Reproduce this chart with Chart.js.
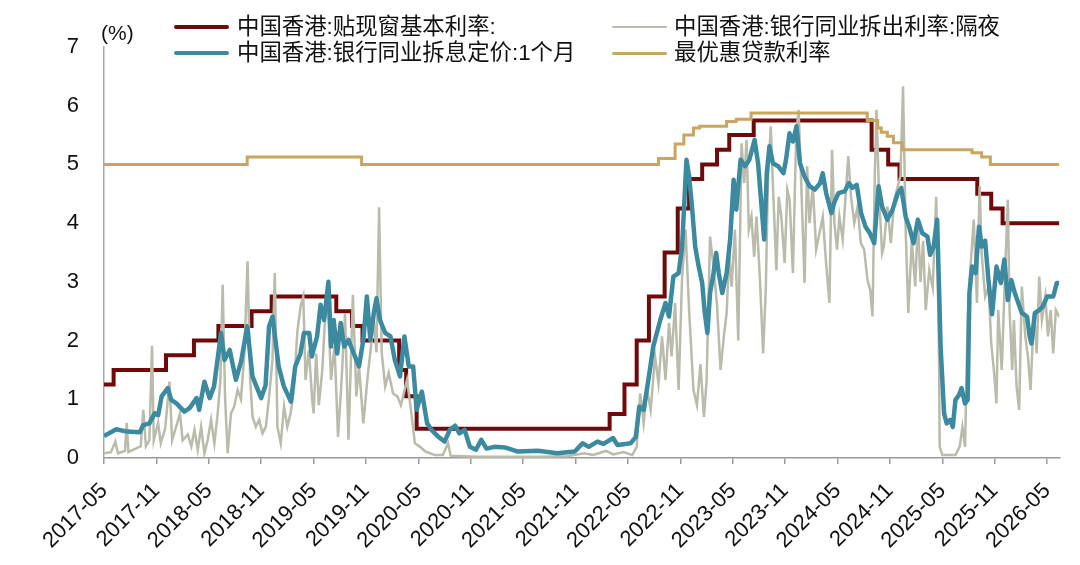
<!DOCTYPE html>
<html>
<head>
<meta charset="utf-8">
<script src="https://cdn.jsdelivr.net/npm/chart.js@4.4.1/dist/chart.umd.min.js"></script>
<style>
  body { margin: 0; background: #fff; }
  #wrap { position: relative; width: 1080px; height: 565px; font-family: "Liberation Sans", "Noto Sans CJK SC", sans-serif; color: #111; }
  .lg { position: absolute; font-size: 22.4px; line-height: 26px; white-space: nowrap; }
  .sw { position: absolute; height: 0; border-radius: 2px; }
  #unit { position: absolute; left: 101px; top: 21px; font-size: 21px; }
</style>
</head>
<body>
<div id="wrap">
  <canvas id="rateChart"></canvas>
  <div id="unit">(%)</div>
  <div class="sw" style="left:174px;top:25px;width:55px;border-top:4px solid #6f0a0a"></div>
  <div class="lg" style="left:237px;top:14px">中国香港:贴现窗基本利率:</div>
  <div class="sw" style="left:612px;top:26px;width:55px;border-top:2.5px solid #babbaa"></div>
  <div class="lg" style="left:674px;top:14px">中国香港:银行同业拆出利率:隔夜</div>
  <div class="sw" style="left:174px;top:51px;width:55px;border-top:4.5px solid #3c8aa0"></div>
  <div class="lg" style="left:237px;top:40px">中国香港:银行同业拆息定价:1个月</div>
  <div class="sw" style="left:612px;top:52px;width:55px;border-top:3px solid #c9a55e"></div>
  <div class="lg" style="left:674px;top:40px">最优惠贷款利率</div>
</div>
<script>
// x values are months counted from 2017-05
const tickMonths = [0, 6, 12, 18, 24, 30, 36, 42, 48, 54, 60, 66, 72, 78, 84, 90, 96, 102, 108];
const tickLabels = ['2017-05', '2017-11', '2018-05', '2018-11', '2019-05', '2019-11', '2020-05', '2020-11',
  '2021-05', '2021-11', '2022-05', '2022-11', '2023-05', '2023-11', '2024-05', '2024-11', '2025-05', '2025-11', '2026-05'];

// 贴现窗基本利率 (step changes)
const baseMonths = [0, 1.1, 7.1, 10.3, 13.1, 16.9, 19.2, 26.6, 28.4, 29.6, 33.8, 34.6, 35.8, 57.9, 59.6, 61.0, 62.4,
  64.2, 65.7, 67.0, 68.5, 70.2, 71.6, 74.4, 87.9, 89.8, 91.1, 100.0, 101.6, 102.9, 109.4];
const baseRate = [1.25, 1.5, 1.75, 2.0, 2.25, 2.5, 2.75, 2.5, 2.25, 2.0, 1.5, 1.05, 0.5, 0.75, 1.25, 2.0, 2.75,
  3.5, 4.25, 4.75, 5.0, 5.25, 5.5, 5.75, 5.25, 5.0, 4.75, 4.5, 4.25, 4.0, 4.0];

// 最优惠贷款利率 (step changes)
const primeMonths = [0, 16.4, 29.5, 63.5, 65.4, 66.4, 67.5, 68.2, 71.3, 72.4, 74.1, 87.4, 88.6, 89.0, 89.7, 90.4,
  91.4, 99.4, 100.5, 101.5, 109.4];
const primeRate = [5.0, 5.125, 5.0, 5.1, 5.35, 5.5, 5.62, 5.65, 5.73, 5.77, 5.875, 5.75, 5.62, 5.55, 5.48, 5.37,
  5.25, 5.2, 5.125, 5.0, 5.0];

// 银行同业拆出利率:隔夜
const onMonths = [0, 0.8, 1.3, 1.6, 2.4, 2.6, 2.8, 3.5, 4.2, 4.5, 4.8, 5.2, 5.5, 5.7, 6.2, 6.5, 7.0, 7.5, 7.8, 8.2,
  8.7, 9.0, 9.6, 10.0, 10.36, 10.74, 11.12, 11.5, 11.88, 12.26, 12.64, 13.02, 13.33, 13.59, 13.86, 14.16, 14.54,
  14.92, 15.3, 15.68, 16.06, 16.44, 16.74, 17.01, 17.39, 17.77, 18.15, 18.53, 18.91, 19.29, 19.56, 19.86, 20.24,
  20.62, 20.99, 21.37, 21.75, 22.13, 22.51, 22.82, 23.08, 23.46, 23.84, 24.0, 24.3, 24.6, 25.0, 25.3, 25.6, 26.0,
  26.4, 26.8, 27.2, 27.6, 28.0, 28.5, 28.9, 29.2, 29.7, 30.2, 30.9, 31.2, 31.5, 31.8, 32.2, 32.6, 33.1, 33.6,
  34.0, 34.7, 35.2, 35.6, 36.2, 36.8, 37.9, 38.8, 39.4, 39.7, 41, 43, 46, 50, 53, 55, 56, 57.5, 58.3, 59.5, 60.5,
  61.0, 61.4, 61.8, 62.2, 62.6, 63.1, 63.5, 63.9, 64.3, 64.7, 65.0, 65.4, 65.8, 66.2, 66.6, 67.0, 67.5, 67.9,
  68.3, 68.7, 69.0, 69.4, 69.8, 70.2, 70.6, 71.0, 71.3, 71.6, 71.87, 72.25, 72.63, 73.01, 73.31, 73.58, 73.84,
  74.14, 74.45, 74.72, 75.1, 75.48, 75.78, 76.05, 76.35, 76.62, 77.0, 77.26, 77.56, 77.94, 78.25, 78.51, 78.89,
  79.27, 79.54, 79.84, 80.22, 80.52, 80.79, 81.17, 81.55, 81.93, 82.31, 82.69, 83.07, 83.37, 83.64, 83.94,
  84.21, 84.59, 84.97, 85.23, 85.54, 85.92, 86.29, 86.67, 87.05, 87.43, 87.74, 88.0, 88.27, 88.46, 88.76, 89.1,
  89.3, 89.7, 90.1, 90.5, 90.9, 91.2, 91.5, 91.8, 92.1, 92.5, 92.9, 93.2, 93.5, 93.8, 94.1, 94.5, 94.9, 95.3,
  95.6, 95.7, 96.0, 97.5, 98.0, 98.3, 98.6, 98.9, 99.2, 99.6, 99.96, 100.27, 100.5, 100.9, 101.3, 101.6, 101.9,
  102.2, 102.4, 102.8, 103.2, 103.5, 103.7, 104.0, 104.2, 104.5, 104.8, 105.1, 105.5, 105.8, 106.1, 106.5,
  106.8, 107.1, 107.4, 107.8, 108.1, 108.4, 108.7, 109.0, 109.4];
const onRate = [0.08, 0.1, 0.28, 0.08, 0.12, 0.6, 0.1, 0.15, 0.2, 0.82, 0.2, 0.3, 1.91, 0.3, 0.6, 0.25, 0.5, 1.3,
  0.3, 0.5, 0.76, 0.3, 0.4, 0.2, 0.48, 0.14, 0.53, 0.08, 0.31, 0.65, 0.25, 0.76, 1.33, 2.95, 1.05, 0.08, 0.76,
  0.88, 1.16, 1.0, 1.73, 3.35, 1.33, 0.7, 0.53, 0.65, 0.42, 0.53, 1.05, 1.67, 3.15, 0.53, 0.25, 0.88, 0.53, 0.76,
  1.16, 2.13, 2.58, 2.75, 1.33, 1.84, 1.0, 0.76, 1.78, 0.9, 1.5, 2.35, 2.75, 1.33, 1.9, 0.36, 1.3, 2.47, 0.31,
  2.78, 1.05, 1.56, 0.59, 1.4, 2.35, 1.8, 4.27, 1.8, 1.22, 1.45, 1.1, 1.05, 0.9, 1.33, 0.76, 0.25, 0.19, 0.11,
  0.05, 0.05, 0.25, 0.04, 0.03, 0.02, 0.02, 0.02, 0.03, 0.08, 0.05, 0.12, 0.06, 0.1, 0.05, 0.19, 1.1, 0.59, 1.16,
  0.82, 1.73, 1.27, 2.07, 1.33, 2.3, 1.73, 2.64, 1.16, 3.09, 3.89, 2.52, 1.16, 0.9, 1.6, 0.7, 1.3, 3.77, 3.26,
  2.6, 1.5, 2.1, 2.47, 3.49, 2.92, 3.89, 2.0, 5.36, 4.68, 5.42, 3.89, 4.11, 3.43, 4.11, 3.09, 1.78, 2.86, 4.85,
  5.65, 4.57, 3.2, 4.45, 4.11, 3.32, 4.57, 4.4, 3.15, 5.53, 5.93, 4.68, 2.98, 4.97, 4.0, 4.63, 3.55, 3.83, 4.11,
  3.32, 2.64, 5.25, 4.0, 3.55, 4.11, 3.72, 4.57, 5.14, 4.45, 4.0, 4.28, 3.66, 3.55, 3.03, 2.86, 2.41, 4.85,
  5.93, 4.45, 3.49, 3.6, 4.28, 3.66, 4.4, 4.63, 4.8, 6.33, 3.89, 2.47, 3.7, 2.92, 4.06, 3.0, 3.7, 2.52, 3.2, 2.9,
  4.45, 2.0, 0.19, 0.05, 0.05, 0.2, 0.53, 0.19, 2.35, 3.2, 4.06, 2.64, 4.63, 3.49, 2.75, 2.92, 1.95, 1.5, 0.93,
  2.52, 1.5, 3.2, 4.4, 2.52, 1.5, 2.35, 1.22, 0.82, 2.92, 2.07, 1.73, 1.16, 2.47, 1.78, 3.09, 2.35, 2.75, 2.07,
  2.52, 1.78, 2.52, 2.4];

// 银行同业拆息定价:1个月
const m1Months = [0, 1.4, 2.6, 4.1, 4.5, 5.2, 5.8, 6.2, 6.6, 7.3, 7.7, 8.3, 9.2, 9.8, 10.6, 10.9, 11.5, 12.1, 12.6,
  13.4, 13.8, 14.4, 15.1, 15.7, 16.4, 17.0, 18.0, 18.5, 18.9, 19.3, 20.0, 20.6, 21.4, 21.9, 22.5, 22.9, 23.5,
  23.8, 24.4, 24.8, 25.2, 25.7, 26.0, 26.3, 26.7, 27.1, 27.5, 28.0, 28.6, 29.2, 29.7, 30.1, 30.5, 30.9, 31.2,
  31.6, 32.2, 32.8, 33.3, 33.9, 34.4, 34.9, 35.4, 35.8, 36.4, 37.0, 37.5, 38.3, 39.0, 39.6, 40.2, 40.7, 41.3,
  41.9, 42.6, 43.2, 43.8, 44.7, 45.9, 47.4, 49.7, 51.9, 53.9, 54.8, 55.5, 56.5, 57.2, 58.3, 58.8, 59.7, 60.3,
  60.9, 61.3, 61.8, 62.4, 62.9, 63.7, 64.3, 64.7, 65.2, 65.8, 66.2, 66.7, 67.0, 67.3, 67.7, 68.1, 68.5, 68.8,
  69.1, 69.4, 69.8, 70.1, 70.4, 70.8, 71.3, 71.7, 72.1, 72.4, 72.9, 73.4, 73.9, 74.5, 74.9, 75.3, 75.6, 75.9,
  76.2, 76.6, 77.2, 77.8, 78.1, 78.5, 78.9, 79.3, 79.7, 80.2, 80.8, 81.4, 82.0, 82.3, 82.7, 83.3, 83.6, 84.1,
  84.8, 85.3, 85.7, 86.2, 86.7, 87.2, 87.7, 88.2, 88.7, 89.1, 89.7, 90.3, 90.9, 91.3, 91.8, 92.2, 92.7, 93.2,
  93.7, 94.3, 94.6, 95.0, 95.4, 95.6, 95.8, 96.2, 96.5, 96.9, 97.2, 97.5, 97.9, 98.2, 98.6, 98.9, 99.1, 99.4,
  99.8, 100.2, 100.5, 100.9, 101.3, 101.7, 102.2, 102.7, 103.1, 103.5, 103.9, 104.3, 105.1, 105.7, 106.0, 106.2,
  106.6, 107.1, 107.5, 108.0, 108.7, 109.1, 109.4];
const m1Rate = [0.375, 0.49, 0.45, 0.44, 0.56, 0.59, 0.76, 0.73, 1.05, 1.19, 0.99, 0.93, 0.79, 0.85, 1.02, 0.82,
  1.3, 1.02, 1.22, 2.13, 1.67, 1.84, 1.33, 1.64, 2.24, 1.39, 1.02, 1.24, 2.24, 2.41, 1.56, 1.22, 0.96, 1.56, 1.78,
  2.13, 2.13, 1.73, 2.07, 2.61, 2.35, 3.0, 1.9, 2.35, 1.78, 2.3, 1.9, 2.01, 1.78, 1.56, 2.01, 2.75, 2.01, 2.47,
  2.72, 2.35, 2.13, 2.07, 1.67, 1.39, 2.07, 1.56, 1.56, 0.82, 1.13, 0.59, 0.48, 0.36, 0.28, 0.48, 0.55, 0.42,
  0.48, 0.19, 0.14, 0.31, 0.16, 0.19, 0.18, 0.11, 0.125, 0.08, 0.11, 0.25, 0.19, 0.28, 0.24, 0.34, 0.22, 0.24,
  0.25, 0.36, 0.875, 0.82, 1.39, 1.9, 2.35, 2.64, 2.41, 3.09, 3.15, 3.6, 5.08, 4.8, 4.34, 3.6, 3.26, 2.98, 2.47,
  2.13, 2.81, 3.15, 3.49, 3.15, 2.81, 3.15, 3.72, 4.74, 4.23, 5.08, 4.97, 5.08, 5.42, 5.02, 4.28, 3.72, 4.85,
  5.31, 5.02, 4.97, 4.85, 5.08, 5.53, 5.39, 5.65, 5.02, 4.8, 4.63, 4.57, 4.68, 4.85, 4.51, 4.17, 4.34, 4.51,
  4.54, 4.68, 4.6, 4.65, 4.17, 3.94, 3.83, 3.66, 4.63, 4.28, 4.06, 4.23, 4.51, 4.6, 4.11, 3.94, 3.66, 4.06,
  3.83, 3.77, 3.46, 3.6, 4.06, 3.03, 1.9, 0.76, 0.59, 0.65, 0.53, 0.99, 1.07, 1.19, 0.93, 0.99, 2.81, 3.26,
  3.15, 3.94, 3.6, 3.7, 3.0, 2.45, 3.26, 2.98, 3.38, 2.69, 3.03, 2.81, 2.47, 2.41, 2.07, 1.95, 2.47, 2.52,
  2.58, 2.75, 2.75, 2.98, 2.98];

const pts = (xs, ys) => xs.map((x, i) => ({ x: x, y: ys[i] }));

const ctx = document.getElementById('rateChart').getContext('2d');
const rateChart = new Chart(ctx, {
  type: 'line',
  data: {
    datasets: [
      {
        label: '中国香港:银行同业拆息定价:1个月',
        data: pts(m1Months, m1Rate),
        borderColor: '#3c8aa0',
        borderWidth: 4.5,
        borderJoinStyle: 'round',
        pointRadius: 0
      },
      {
        label: '最优惠贷款利率',
        data: pts(primeMonths, primeRate),
        borderColor: '#c9a55e',
        borderWidth: 3,
        pointRadius: 0,
        stepped: true
      },
      {
        label: '中国香港:银行同业拆出利率:隔夜',
        data: pts(onMonths, onRate),
        borderColor: '#babbaa',
        borderWidth: 2.5,
        pointRadius: 0
      },
      {
        label: '中国香港:贴现窗基本利率:',
        data: pts(baseMonths, baseRate),
        borderColor: '#6f0a0a',
        borderWidth: 4,
        pointRadius: 0,
        stepped: true
      }
    ]
  },
  options: {
    responsive: true,
    maintainAspectRatio: false,
    animation: false,
    layout: { padding: { top: 47, right: 16, left: 0, bottom: 0 } },
    scales: {
      x: {
        type: 'linear',
        min: 0,
        max: 109.4,
        afterFit: (s) => { s.height = 107; },
        afterBuildTicks: (s) => { s.ticks = tickMonths.map(v => ({ value: v })); },
        grid: { display: true, drawOnChartArea: false, drawTicks: true, tickLength: 6, color: '#999', lineWidth: 1.5 },
        border: { display: true, color: '#999', width: 1.5 },
        ticks: {
          autoSkip: false,
          minRotation: 45,
          maxRotation: 45,
          padding: 14,
          color: '#111',
          font: { family: '"Liberation Sans", sans-serif', size: 22 },
          callback: (v) => tickLabels[tickMonths.indexOf(v)]
        }
      },
      y: {
        min: 0,
        max: 7,
        afterFit: (s) => { s.width = 104; },
        grid: { display: false, drawTicks: false },
        border: { display: true, color: '#aaa', width: 1.5 },
        ticks: {
          stepSize: 1,
          padding: 25,
          color: '#111',
          font: { family: '"Liberation Sans", sans-serif', size: 22 }
        }
      }
    },
    plugins: {
      legend: { display: false },
      tooltip: { enabled: false }
    }
  }
});
</script>
</body>
</html>
